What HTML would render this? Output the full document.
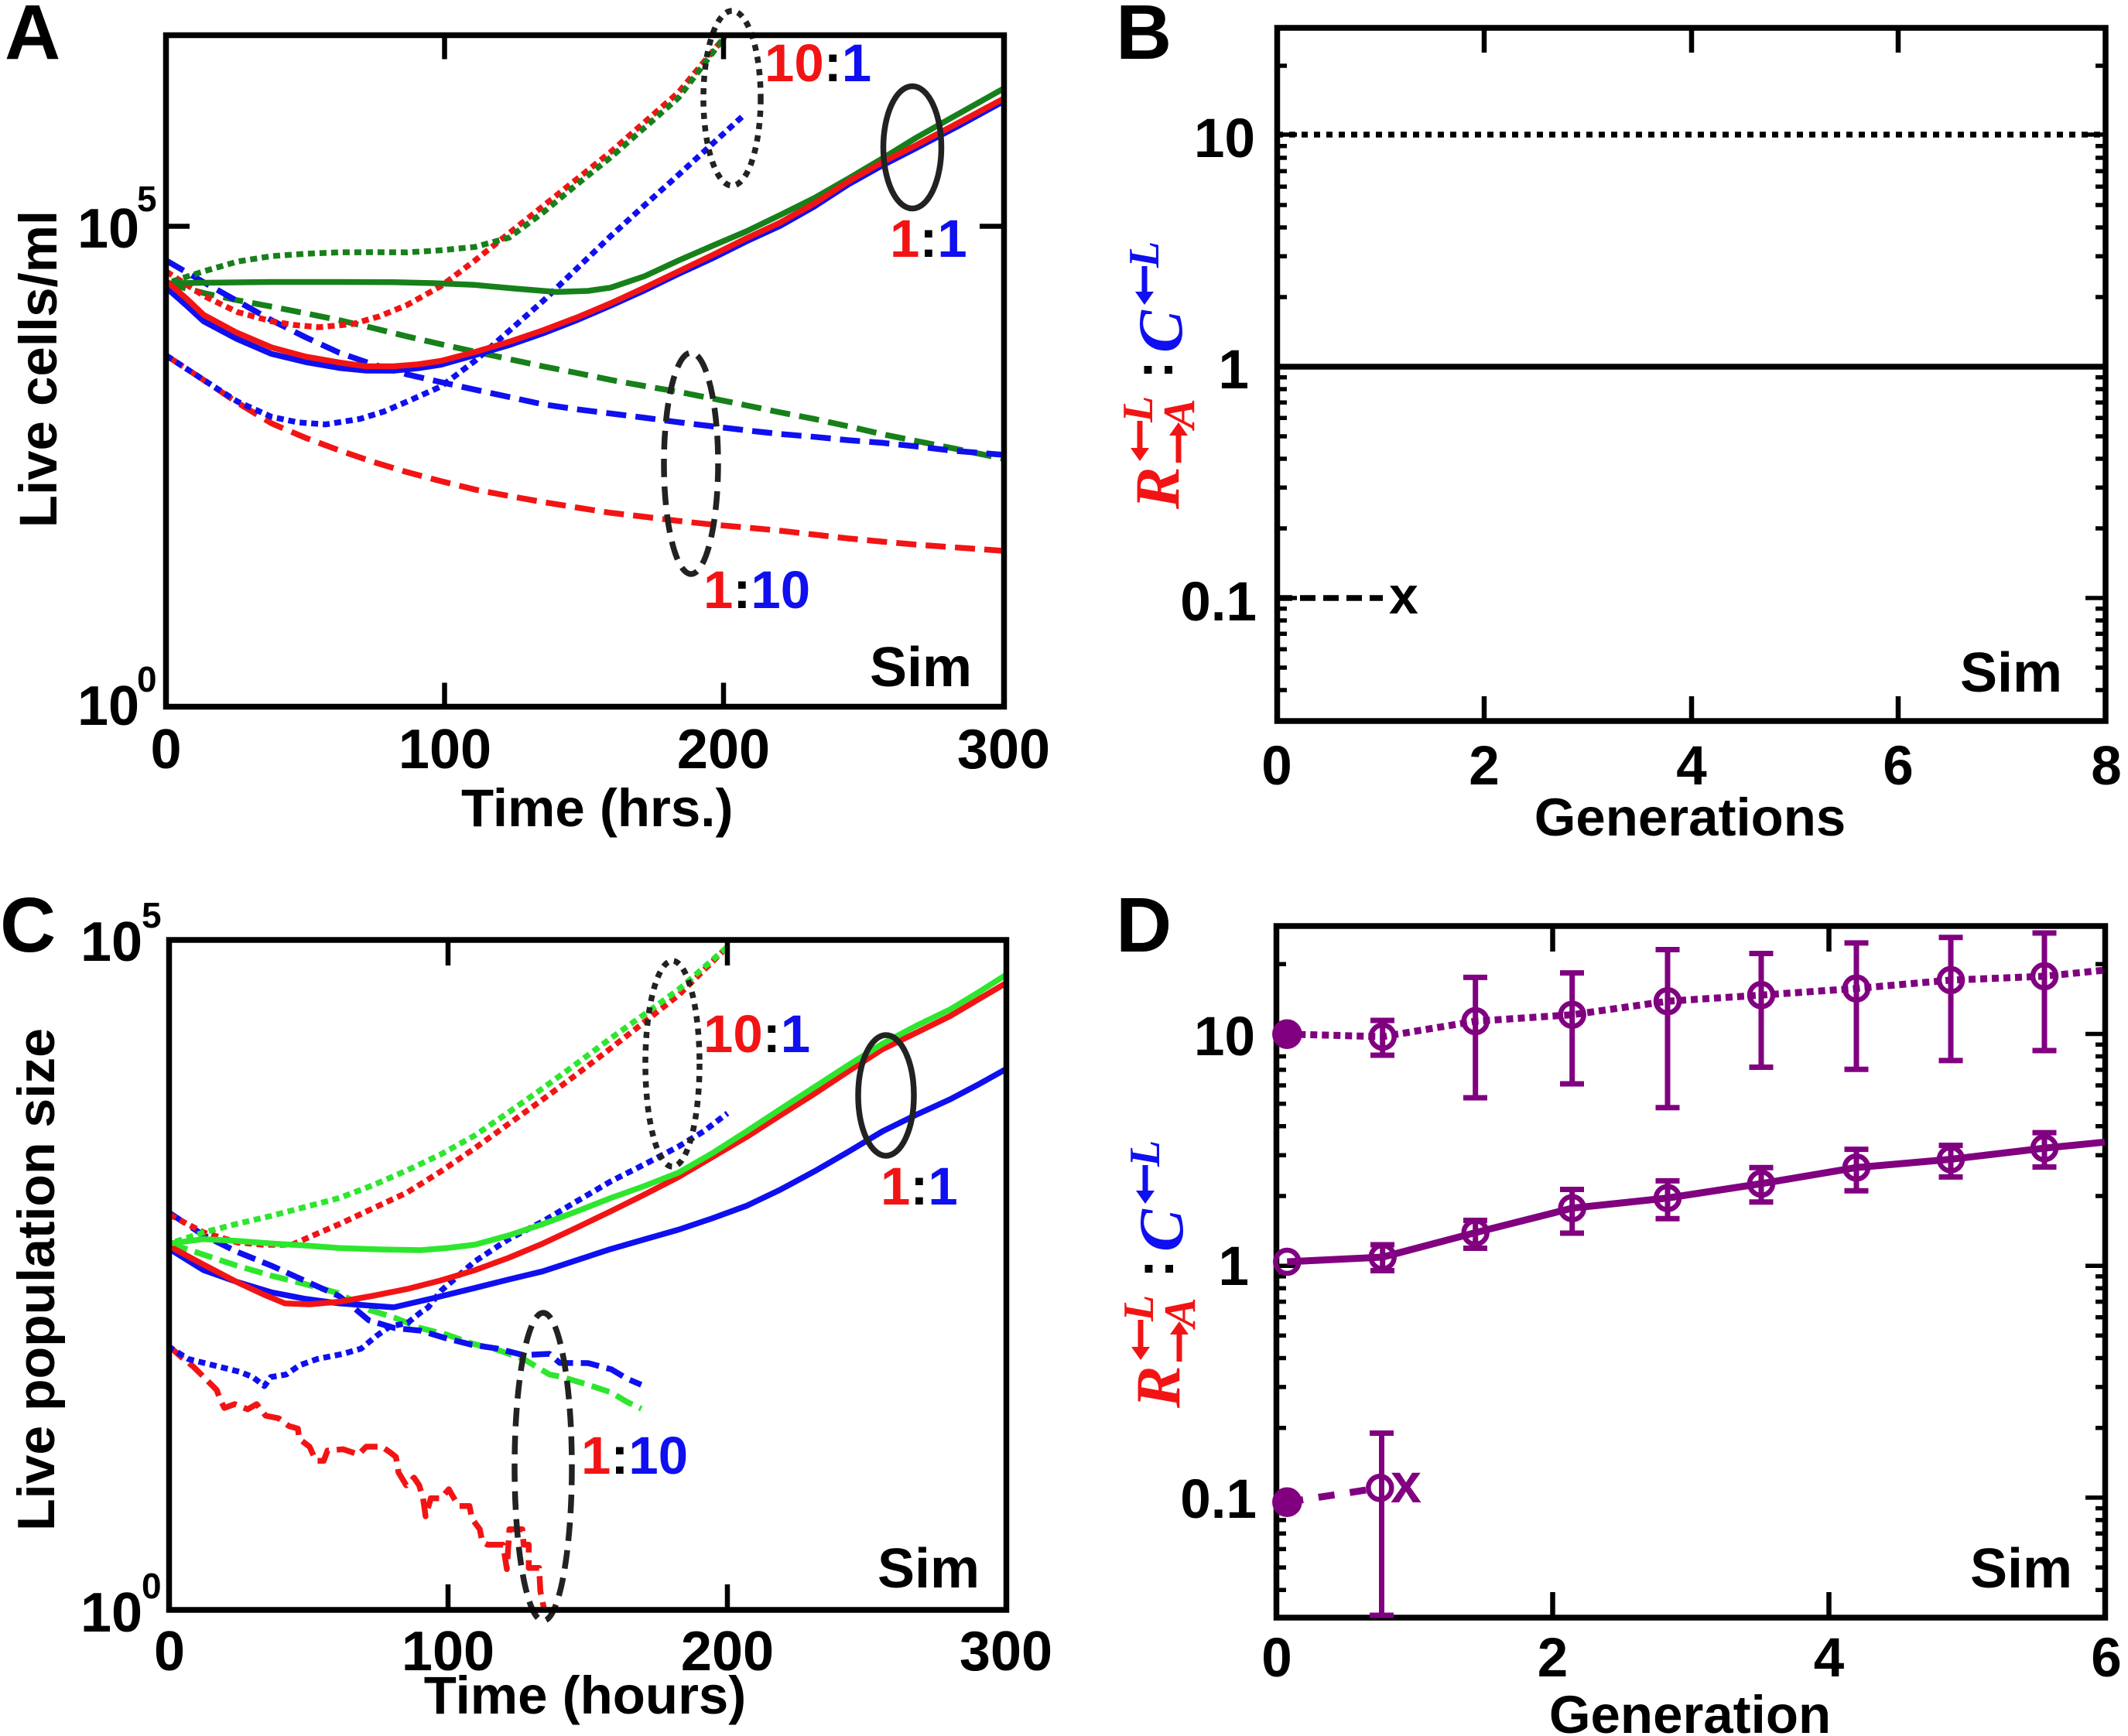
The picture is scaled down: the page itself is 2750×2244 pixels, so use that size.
<!DOCTYPE html>
<html>
<head>
<meta charset="utf-8">
<style>
html,body{margin:0;padding:0;background:#fff;}
body{width:2750px;height:2244px;overflow:hidden;}
svg{display:block;}
.t{font-family:"Liberation Sans",Arial,sans-serif;font-weight:bold;fill:#000;}
.s{font-family:"Liberation Serif","Times New Roman",serif;font-weight:bold;font-style:italic;}
</style>
</head>
<body>
<svg width="2750" height="2244" viewBox="0 0 2750 2244" xmlns="http://www.w3.org/2000/svg">
<rect x="0" y="0" width="2750" height="2244" fill="#fff"/>

<!-- ================= PANEL A ================= -->
<g fill="none" stroke-linejoin="round" stroke-width="7.5">
  <polyline stroke="#f21414" stroke-dasharray="26 12" points="214.8,459.5 263.1,491.1 306,520 350.8,547.2 395,566 438.5,582.2 482,597 526.1,610.3 570,622 613.8,632.8 657,641 701.5,648.9 745,656 789.2,662.9 833,668 876.9,673.4 920,678 964.6,681.9 1008,686 1052.3,691 1096,696 1140,700.1 1184,704 1227.7,707.1 1296,712"/>
  <polyline stroke="#17801a" stroke-dasharray="26 12" points="214.8,366.2 263.1,378.8 306,388 350.8,396.3 395,405 438.5,413.9 482,424 526.1,434.9 570,445 613.8,454.6 657,464 701.5,473.5 745,482 789.2,491.1 833,499 876.9,506.5 920,515 964.6,524 1008,533 1052.3,541.6 1096,551 1140,561.2 1184,570 1227.7,578.7 1296,592.8"/>
  <polyline stroke="#0f0ff0" stroke-dasharray="26 12" points="214.8,336.7 263.1,364.8 306.9,389.3 350.8,413.9 395,436 438.5,456 482,471 526.1,484 570,494 613.8,503.7 657,513 701.5,522.6 745,529 789.2,534.5 833,540 876.9,545.8 920,551 964.6,556.3 1008,561 1052.3,564.7 1096,569 1140,572.4 1184,577 1227.7,582.2 1296,587.9"/>
  <polyline stroke="#0f0ff0" stroke-dasharray="9 6" points="214.8,459.5 263.1,491.1 306.9,519.1 350.8,538.8 385,546 420.9,548.6 464.8,541.6 496,532 526.1,519.1 570,499.5 613.8,466.5 657.7,427.9 701.5,389.3 745.4,347.2 789.2,305.2 833.1,265.2 876.9,225.9 920.7,185.9 962.9,147.3"/>
  <polyline stroke="#f21414" stroke-dasharray="9 6" points="214.8,350.8 263.1,382.3 306.9,403.4 350.8,415.3 380,420 412.1,423 456,418.8 490,409 526.1,394.2 570,369.7 613.8,336.7 657.7,301.6 701.5,266.6 745.4,231.5 789.2,196.4 833.1,157.8 876.9,119.3 936.5,47.7"/>
  <polyline stroke="#17801a" stroke-dasharray="9 6" stroke-dashoffset="7" points="214.8,366.2 263.1,350.8 306.9,338.1 350.8,331.1 395,328 438.5,326.2 482,326 526.1,326.2 570,323.5 613.8,319.2 657.7,307.3 701.5,275 745.4,238.5 789.2,203.4 833.1,164.9 876.9,126.3 936.5,47.7"/>
  <polyline stroke="#17801a" points="214.8,366.2 263,365.5 350,364.5 438,364.5 508.6,364.8 560,366 613.8,368.3 665,373 719.1,377.4 760,376 789.2,371.8 833,357 876.9,336.7 920,318 964.6,299 1008,278 1052.3,256 1096,231 1140,205 1184,178 1230,152 1296,115"/>
  <polyline stroke="#0f0ff0" points="214.8,371.8 240,394 263.1,415.3 306,438 350.8,457.4 395,468 438.5,475.6 473,479 508.6,479.1 540,476 570,471.4 613.8,459 657.7,446.2 701.5,431 745.4,413.9 789.2,395 833.1,375.3 876.9,354 920.7,333.9 964.6,312 1008.4,291.8 1052.3,267 1096.1,238.5 1140,214 1183.8,191.5 1240,162 1296,131.5"/>
  <polyline stroke="#f21414" points="214.8,363.4 240,385 263.1,406.9 306,430 350.8,449 395,461 438.5,468.6 473,473.5 508.6,473.5 540,471 570,466.5 613.8,455 657.7,441.9 701.5,427 745.4,410.4 789.2,392 833.1,371.8 876.9,350.7 920.7,329.7 964.6,308 1008.4,287.6 1052.3,263 1096.1,234.7 1140,210 1183.8,187.7 1240,158 1296,128"/>
</g>
<g fill="none" stroke="#222" stroke-width="7.5">
  <ellipse cx="946" cy="127" rx="37" ry="113" stroke-dasharray="8 8"/>
  <ellipse cx="1179" cy="190.5" rx="37.5" ry="79"/>
  <ellipse cx="893" cy="599" rx="35" ry="143" stroke-dasharray="24 12"/>
</g>
<rect x="214.5" y="45.5" width="1083" height="868" fill="none" stroke="#000" stroke-width="7.5"/>
<path d="M574.5 913.5V882.5M935 913.5V882.5M574.5 45.5V76.5M935 45.5V76.5M214.5 292.5H245M1297.5 292.5H1266" stroke="#000" stroke-width="6.5" fill="none"/>
<g class="t" font-size="72" text-anchor="middle">
  <text x="214.5" y="993">0</text>
  <text x="575" y="993">100</text>
  <text x="935" y="993">200</text>
  <text x="1297" y="993">300</text>
</g>
<g class="t">
  <text x="100" y="320" font-size="72">10</text><text x="177" y="273" font-size="46">5</text>
  <text x="100" y="937" font-size="72">10</text><text x="177" y="894" font-size="46">0</text>
  <text x="771.7" y="1068" font-size="69" text-anchor="middle">Time (hrs.)</text>
  <text x="6" y="76" font-size="100">A</text>
  <text x="1124" y="887" font-size="72">Sim</text>
  <text transform="translate(73,477) rotate(-90)" font-size="69" text-anchor="middle">Live cells/ml</text>
  <text x="988" y="105" font-size="69"><tspan fill="#f21414">10</tspan><tspan fill="#000">:</tspan><tspan fill="#0f0ff0">1</tspan></text>
  <text x="1150" y="332" font-size="69"><tspan fill="#f21414">1</tspan><tspan fill="#000">:</tspan><tspan fill="#0f0ff0">1</tspan></text>
  <text x="909" y="786" font-size="69"><tspan fill="#f21414">1</tspan><tspan fill="#000">:</tspan><tspan fill="#0f0ff0">10</tspan></text>
</g>

<!-- ================= PANEL B ================= -->
<g fill="none" stroke="#000" stroke-width="7.5">
  <line x1="1650" y1="174" x2="2721" y2="174" stroke-dasharray="8 8"/>
  <line x1="1650" y1="474" x2="2721" y2="474"/>
  <line x1="1650" y1="773" x2="1787" y2="773" stroke-dasharray="20 10"/>
</g>
<rect x="1650.5" y="36" width="1070.5" height="896" fill="none" stroke="#000" stroke-width="7.5"/>
<path stroke="#000" stroke-width="5.5" fill="none" d="
M1650 174h26M1650 474h26M1650 773h26
M2721 174h-26M2721 474h-26M2721 773h-26
M1650 85h13M1650 384h13M1650 331.3h13M1650 294h13M1650 265h13M1650 241.3h13M1650 221.3h13M1650 204h13M1650 188.7h13
M1650 683h13M1650 630.3h13M1650 593h13M1650 564h13M1650 540.3h13M1650 520.3h13M1650 503h13M1650 487.7h13
M1650 892h13M1650 863h13M1650 839.3h13M1650 819.3h13M1650 802h13M1650 786.7h13
M2721 85h-13M2721 384h-13M2721 331.3h-13M2721 294h-13M2721 265h-13M2721 241.3h-13M2721 221.3h-13M2721 204h-13M2721 188.7h-13
M2721 683h-13M2721 630.3h-13M2721 593h-13M2721 564h-13M2721 540.3h-13M2721 520.3h-13M2721 503h-13M2721 487.7h-13
M2721 892h-13M2721 863h-13M2721 839.3h-13M2721 819.3h-13M2721 802h-13M2721 786.7h-13
"/>
<path stroke="#000" stroke-width="6.5" fill="none" d="M1918 932V900M2186 932V900M2453 932V900M1918 36V68M2186 36V68M2453 36V68"/>
<g class="t" font-size="71">
  <text x="1622" y="203" text-anchor="end">10</text>
  <text x="1614" y="502" text-anchor="end">1</text>
  <text x="1624" y="802" text-anchor="end">0.1</text>
  <text x="1650" y="1014" text-anchor="middle">0</text>
  <text x="1918" y="1014" text-anchor="middle">2</text>
  <text x="2186" y="1014" text-anchor="middle">4</text>
  <text x="2453" y="1014" text-anchor="middle">6</text>
  <text x="2722" y="1014" text-anchor="middle">8</text>
</g>
<g class="t">
  <text x="2184" y="1080" font-size="69" text-anchor="middle">Generations</text>
  <text x="2533" y="894" font-size="72">Sim</text>
  <text x="1442" y="76" font-size="100">B</text>
  <text x="1795" y="793" font-size="68">x</text>
</g>
<g transform="translate(1495,482) rotate(-90)">
  <text class="s" x="-176" y="28" font-size="82" fill="#f21414">R</text>
  <path d="M-62,-22H-98" stroke="#f21414" stroke-width="7"/>
  <path d="M-114,-22L-97,-34L-97,-10Z" fill="#f21414"/>
  <text class="s" x="-64" y="-6" font-size="56" fill="#f21414">L</text>
  <path d="M-116,28H-80" stroke="#f21414" stroke-width="7"/>
  <path d="M-64,28L-81,16L-81,40Z" fill="#f21414"/>
  <text class="s" x="-72" y="48" font-size="58" fill="#f21414">A</text>
  <text class="t" x="-8" y="20" font-size="72">:</text>
  <text class="s" x="26" y="32" font-size="82" fill="#0f0ff0">C</text>
  <path d="M138,-16H104" stroke="#0f0ff0" stroke-width="7"/>
  <path d="M88,-16L105,-28L105,-4Z" fill="#0f0ff0"/>
  <text class="s" x="136" y="2" font-size="56" fill="#0f0ff0">L</text>
</g>

<!-- ================= PANEL C ================= -->
<g fill="none" stroke-linejoin="round" stroke-width="7.5">
  <polyline stroke="#f21414" stroke-dasharray="24 10" points="218.3,1740 233.3,1753.3 250,1766.7 266.7,1783.3 280,1796.7 285,1810 290,1820 303.3,1815 320,1821.7 331.7,1815 343.3,1830 360,1833.3 373.3,1843.3 385,1846.7 386.7,1860 400,1870 408.3,1888.3 418.3,1888.3 423.3,1875 443.3,1873.3 463.3,1880 473.3,1870 493.3,1870 503.3,1876.7 511.7,1883.3 515,1903.3 525,1920 535,1910 541.7,1920 546.7,1936.7 550,1960 556.7,1936.7 570,1936.7 580,1925 586.7,1936.7 593.3,1946.7 606.7,1946.7 610,1963.3 620,1976.7 623.3,1993.3 630,1996.7 650,1996.7 655,2028.3 658.3,1976.7 675,1976.7 676.7,1996.7 683.3,1996.7 683.3,2026.7 696.7,2026.7 698.3,2056.7 703.3,2081"/>
  <polyline stroke="#2ee62e" stroke-dasharray="24 10" points="219.2,1607.4 263.1,1621.8 306,1636 350.8,1649 395,1660 438.5,1671.9 476.7,1693 510,1703.3 543.3,1716.7 576.7,1725 610,1736.7 643.3,1745 676.7,1756.7 710,1776.7 726.7,1780 760,1790 790,1800 810,1812 828.7,1821"/>
  <polyline stroke="#0f0ff0" stroke-dasharray="24 10" points="219.2,1568 263.1,1596.7 306,1618 350.8,1636.1 395,1656 438.5,1675.5 456.7,1690 476.7,1706.7 510,1716.7 543.3,1720 576.7,1730 610,1738.3 643.3,1743.3 676.7,1751.7 710,1750 723.3,1761.7 760,1762 790,1770 810,1782 828.7,1790"/>
  <polyline stroke="#0f0ff0" stroke-dasharray="9 6" points="216.7,1740 243.3,1756.7 276.7,1765 310,1773.3 326.7,1780 341.7,1791.7 350,1780 370,1776.7 386.7,1765 410,1756.7 443.3,1750 466.7,1743.3 486.7,1726.7 503.3,1715 526.7,1710 543.3,1696.7 553.3,1690 570,1668.4 613.8,1630.4 657,1602 701.5,1578.8 745,1553 789.2,1527.1 833,1505 876.9,1482 910,1462 940.1,1439"/>
  <polyline stroke="#f21414" stroke-dasharray="9 6" points="219.2,1570.2 263.1,1593.1 306.9,1606 340,1609 377.1,1608.9 438.5,1582.3 482,1562 526.1,1541.5 570,1514 613.8,1484.1 657,1453 701.5,1421.1 745,1389 789.2,1355.1 833,1321 876.9,1286.3 940.1,1223.9"/>
  <polyline stroke="#2ee62e" stroke-dasharray="9 6" stroke-dashoffset="7" points="219.2,1607.4 263.1,1593.1 306,1582 350.8,1571.6 395,1560 438.5,1548.6 482,1532 526.1,1512.8 570,1492 613.8,1467.6 657,1438 701.5,1406.7 745,1375 789.2,1342.2 833,1311 876.9,1279.1 940.1,1223.9"/>
  <polyline stroke="#0f0ff0" points="219.2,1614.6 263.1,1641.8 306,1657 350.8,1670.5 395,1679 438.5,1684.8 508.6,1689.9 560,1678 613.8,1664.8 657,1654 701.5,1643.3 745,1629 789.2,1614.6 833,1602 876.9,1589.5 920,1575 964.6,1558.7 1008,1538 1052.3,1514.2 1096,1489 1140,1462.6 1184,1441 1227.7,1421.1 1264,1402 1300.5,1381.6"/>
  <polyline stroke="#f21414" points="219.2,1611 263.1,1634.7 306.9,1657.6 340,1673 368.3,1684.8 400,1686 438.5,1682.7 482,1675 526.1,1666.2 570,1655 613.8,1641.8 657,1626 701.5,1607.4 745,1587 789.2,1565.8 833,1544 876.9,1521.4 920,1496 964.6,1469.8 1008,1442 1052.3,1413.9 1096,1385 1140,1356.5 1184,1335 1227.7,1313.5 1264,1292 1300.5,1270.5"/>
  <polyline stroke="#2ee62e" points="219.2,1607.4 263.1,1601.7 306,1604 350.8,1607.4 395,1610 438.5,1613.2 490,1615 543.7,1616 580,1613 613.8,1608.9 657,1597 701.5,1582.3 745,1566 789.2,1548.6 833,1533 876.9,1515.7 920,1491 964.6,1462.6 1008,1434 1052.3,1405.3 1096,1377 1140,1349.4 1184,1326 1227.7,1304.9 1264,1283 1300.5,1259.8"/>
</g>
<g fill="none" stroke="#222" stroke-width="7.5">
  <ellipse cx="869" cy="1375" rx="35" ry="133" stroke-dasharray="8 8"/>
  <ellipse cx="1145" cy="1416" rx="36" ry="78"/>
  <ellipse cx="702" cy="1896" rx="37" ry="199" stroke-dasharray="24 12"/>
</g>
<rect x="218.5" y="1215" width="1082" height="866" fill="none" stroke="#000" stroke-width="7.5"/>
<path d="M579 2081V2048M940 2081V2048M579 1215V1248M940 1215V1248" stroke="#000" stroke-width="6.5" fill="none"/>
<g class="t" font-size="72" text-anchor="middle">
  <text x="219" y="2159">0</text>
  <text x="579" y="2159">100</text>
  <text x="940" y="2159">200</text>
  <text x="1300" y="2159">300</text>
</g>
<g class="t">
  <text x="104" y="1242" font-size="72">10</text><text x="183" y="1199" font-size="46">5</text>
  <text x="104" y="2109" font-size="72">10</text><text x="183" y="2066" font-size="46">0</text>
  <text x="756" y="2215" font-size="69" text-anchor="middle">Time (hours)</text>
  <text x="0" y="1230" font-size="100">C</text>
  <text x="1134" y="2052" font-size="72">Sim</text>
  <text transform="translate(70,1654) rotate(-90)" font-size="68" text-anchor="middle">Live population size</text>
  <text x="909" y="1360" font-size="69"><tspan fill="#f21414">10</tspan><tspan fill="#000">:</tspan><tspan fill="#0f0ff0">1</tspan></text>
  <text x="1138" y="1557" font-size="69"><tspan fill="#f21414">1</tspan><tspan fill="#000">:</tspan><tspan fill="#0f0ff0">1</tspan></text>
  <text x="751" y="1905" font-size="69"><tspan fill="#f21414">1</tspan><tspan fill="#000">:</tspan><tspan fill="#0f0ff0">10</tspan></text>
</g>

<!-- ================= PANEL D ================= -->
<rect x="1649.5" y="1197" width="1071" height="894" fill="none" stroke="#000" stroke-width="7.5"/>
<path stroke="#000" stroke-width="5.5" fill="none" d="
M1649 1336.5h26M1649 1636.2h26M1649 1935.9h26
M2721 1336.5h-26M2721 1636.2h-26M2721 1935.9h-26
M1649 1246.3h13M1649 1546h13M1649 1493.2h13M1649 1455.8h13M1649 1426.7h13M1649 1403h13M1649 1382.9h13M1649 1365.5h13M1649 1350.2h13
M1649 1845.7h13M1649 1792.9h13M1649 1755.5h13M1649 1726.4h13M1649 1702.7h13M1649 1682.6h13M1649 1665.2h13M1649 1649.9h13
M1649 2055.2h13M1649 2026.1h13M1649 2002.4h13M1649 1982.3h13M1649 1964.9h13M1649 1949.6h13
M2721 1246.3h-13M2721 1546h-13M2721 1493.2h-13M2721 1455.8h-13M2721 1426.7h-13M2721 1403h-13M2721 1382.9h-13M2721 1365.5h-13M2721 1350.2h-13
M2721 1845.7h-13M2721 1792.9h-13M2721 1755.5h-13M2721 1726.4h-13M2721 1702.7h-13M2721 1682.6h-13M2721 1665.2h-13M2721 1649.9h-13
M2721 2055.2h-13M2721 2026.1h-13M2721 2002.4h-13M2721 1982.3h-13M2721 1964.9h-13M2721 1949.6h-13
"/>
<path stroke="#000" stroke-width="6.5" fill="none" d="M2006.5 2091V2058M2363.5 2091V2058M2006.5 1197V1230M2363.5 1197V1230"/>
<g fill="none" stroke="#800080" stroke-linejoin="round">
  <polyline stroke-width="9" stroke-dasharray="9 6" points="1663.3,1336.7 1786.7,1340 1906.7,1320 2031.7,1311.7 2155,1294.2 2276,1286.3 2399,1277.7 2521,1266.9 2642,1261.9 2720,1254"/>
  <polyline stroke-width="9" points="1663.3,1631 1786.7,1625 1906.7,1593.3 2031.7,1561.7 2155,1548.6 2276,1530 2399,1509.2 2521,1498.5 2642,1484.1 2720,1476.3"/>
  <polyline stroke-width="9" stroke-dasharray="21 20" points="1663.3,1941.7 1783.3,1923.3"/>
  <path stroke-width="7" d="
M1786.7 1319V1364M1771 1319h31M1771 1364h31
M1906.7 1263.4V1419M1891 1263.4h31M1891 1419h31
M2031.7 1257.6V1401M2016 1257.6h31M2016 1401h31
M2155 1227.5V1431.8M2139.5 1227.5h31M2139.5 1431.8h31
M2276 1232.5V1379.5M2260.5 1232.5h31M2260.5 1379.5h31
M2399 1218.9V1382.3M2383.5 1218.9h31M2383.5 1382.3h31
M2521 1211.8V1370.9M2505.5 1211.8h31M2505.5 1370.9h31
M2642 1206V1358M2626.5 1206h31M2626.5 1358h31
M1786.7 1609V1642.5M1771 1609h31M1771 1642.5h31
M1906.7 1577.5V1613.5M1891 1577.5h31M1891 1613.5h31
M2031.7 1537.5V1594M2016 1537.5h31M2016 1594h31
M2155 1526.4V1575.2M2139.5 1526.4h31M2139.5 1575.2h31
M2276 1509.2V1553.7M2260.5 1509.2h31M2260.5 1553.7h31
M2399 1485.6V1539.3M2383.5 1485.6h31M2383.5 1539.3h31
M2521 1480.5V1521.4M2505.5 1480.5h31M2505.5 1521.4h31
M2642 1464.1V1508.5M2626.5 1464.1h31M2626.5 1508.5h31
M1785.5 1852.5V2088M1770 1852.5h31M1770 2088h31
"/>
  <g stroke-width="6.5">
    <circle cx="1663.3" cy="1336.7" r="16" fill="#800080"/>
    <circle cx="1786.7" cy="1340" r="15"/>
    <circle cx="1906.7" cy="1320" r="15"/>
    <circle cx="2031.7" cy="1311.7" r="15"/>
    <circle cx="2155" cy="1294.2" r="15"/>
    <circle cx="2276" cy="1286.3" r="15"/>
    <circle cx="2399" cy="1277.7" r="15"/>
    <circle cx="2521" cy="1266.9" r="15"/>
    <circle cx="2642" cy="1261.9" r="15"/>
    <circle cx="1663.3" cy="1631" r="15"/>
    <circle cx="1786.7" cy="1625" r="15"/>
    <circle cx="1906.7" cy="1593.3" r="15"/>
    <circle cx="2031.7" cy="1561.7" r="15"/>
    <circle cx="2155" cy="1548.6" r="15"/>
    <circle cx="2276" cy="1530" r="15"/>
    <circle cx="2399" cy="1509.2" r="15"/>
    <circle cx="2521" cy="1498.5" r="15"/>
    <circle cx="2642" cy="1484.1" r="15"/>
    <circle cx="1663.3" cy="1941.7" r="16" fill="#800080"/>
    <circle cx="1783.3" cy="1923.3" r="15"/>
  </g>
</g>
<g class="t" font-size="71">
  <text x="1622" y="1364" text-anchor="end">10</text>
  <text x="1614" y="1661" text-anchor="end">1</text>
  <text x="1624" y="1962" text-anchor="end">0.1</text>
  <text x="1650" y="2167" text-anchor="middle">0</text>
  <text x="2006.5" y="2167" text-anchor="middle">2</text>
  <text x="2363.5" y="2167" text-anchor="middle">4</text>
  <text x="2722" y="2167" text-anchor="middle">6</text>
</g>
<g class="t">
  <text x="2184" y="2240" font-size="69" text-anchor="middle">Generation</text>
  <text x="2546" y="2052" font-size="72">Sim</text>
  <text x="1442" y="1230" font-size="100">D</text>
  <text x="1797" y="1942" font-size="72" fill="#800080">x</text>
</g>
<g transform="translate(1496,1644) rotate(-90)">
  <text class="s" x="-176" y="28" font-size="82" fill="#f21414">R</text>
  <path d="M-62,-22H-98" stroke="#f21414" stroke-width="7"/>
  <path d="M-114,-22L-97,-34L-97,-10Z" fill="#f21414"/>
  <text class="s" x="-64" y="-6" font-size="56" fill="#f21414">L</text>
  <path d="M-116,28H-80" stroke="#f21414" stroke-width="7"/>
  <path d="M-64,28L-81,16L-81,40Z" fill="#f21414"/>
  <text class="s" x="-72" y="48" font-size="58" fill="#f21414">A</text>
  <text class="t" x="-8" y="20" font-size="72">:</text>
  <text class="s" x="26" y="32" font-size="82" fill="#0f0ff0">C</text>
  <path d="M138,-16H104" stroke="#0f0ff0" stroke-width="7"/>
  <path d="M88,-16L105,-28L105,-4Z" fill="#0f0ff0"/>
  <text class="s" x="136" y="2" font-size="56" fill="#0f0ff0">L</text>
</g>
</svg>
</body>
</html>
